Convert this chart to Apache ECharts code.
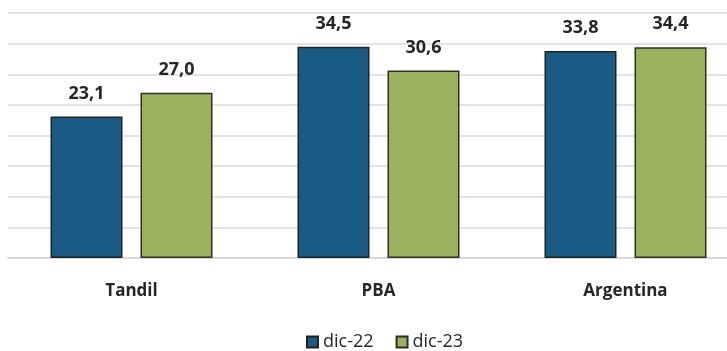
<!DOCTYPE html>
<html>
<head>
<meta charset="utf-8">
<script src="https://cdn.jsdelivr.net/npm/echarts@6/dist/echarts.min.js"></script>
<style>
  html, body { margin: 0; padding: 0; background: #fff; overflow: hidden; }
  #chart { width: 750px; height: 351px; }
</style>
</head>
<body>
<div id="chart"></div>
<script>
var categories = ['Tandil', 'PBA', 'Argentina'];
var dic22 = [23.1, 34.5, 33.8];
var dic23 = [27.0, 30.6, 34.4];

// el gráfico original está recortado por la derecha
var mychart = echarts.init(document.getElementById('chart'));

// etiquetas con coma decimal
function coma(p) {
    return p.value.toFixed(1).replace('.', ',');
}

var etiqueta = {
    show: true,
    position: 'top',
    distance: 14,
    formatter: coma,
    color: '#262626',
    fontSize: 18,
    fontWeight: 'bold',
    fontFamily: 'Open Sans'
};

option = {
    animation: false,
    grid: {
        left: 8,
        top: 13,
        width: 741,
        height: 245
    },
    legend: {
        top: 328,
        left: 301,
        itemWidth: 11,
        itemHeight: 11,
        itemGap: 22,
        icon: 'rect',
        textStyle: {
            color: '#262626',
            fontSize: 18,
            fontFamily: 'Open Sans'
        },
        data: ['dic-22', 'dic-23']
    },
    xAxis: {
        type: 'category',
        data: categories,
        axisLine: { lineStyle: { color: '#d9d9d9', width: 2 } },
        axisTick: { show: false },
        axisLabel: {
            margin: 25,
            color: '#262626',
            fontSize: 17,
            fontWeight: 'bold',
            fontFamily: 'Open Sans'
        }
    },
    yAxis: {
        type: 'value',
        min: 0,
        max: 40,
        interval: 5,
        axisLabel: { show: false },
        axisLine: { show: false },
        axisTick: { show: false },
        splitLine: { lineStyle: { color: '#e3e3e3', width: 2 } }
    },
    series: [
        {
            name: 'dic-22',
            type: 'bar',
            data: dic22,
            barWidth: 72,
            barGap: '25%',
            itemStyle: { color: '#195b84', borderColor: '#1e2326', borderWidth: 1.5 },
            label: etiqueta
        },
        {
            name: 'dic-23',
            type: 'bar',
            data: dic23,
            barWidth: 72,
            itemStyle: { color: '#9ab15d', borderColor: '#2c3024', borderWidth: 1.5 },
            label: etiqueta
        }
    ]
};
mychart.setOption(option);
</script>
</body>
</html>
